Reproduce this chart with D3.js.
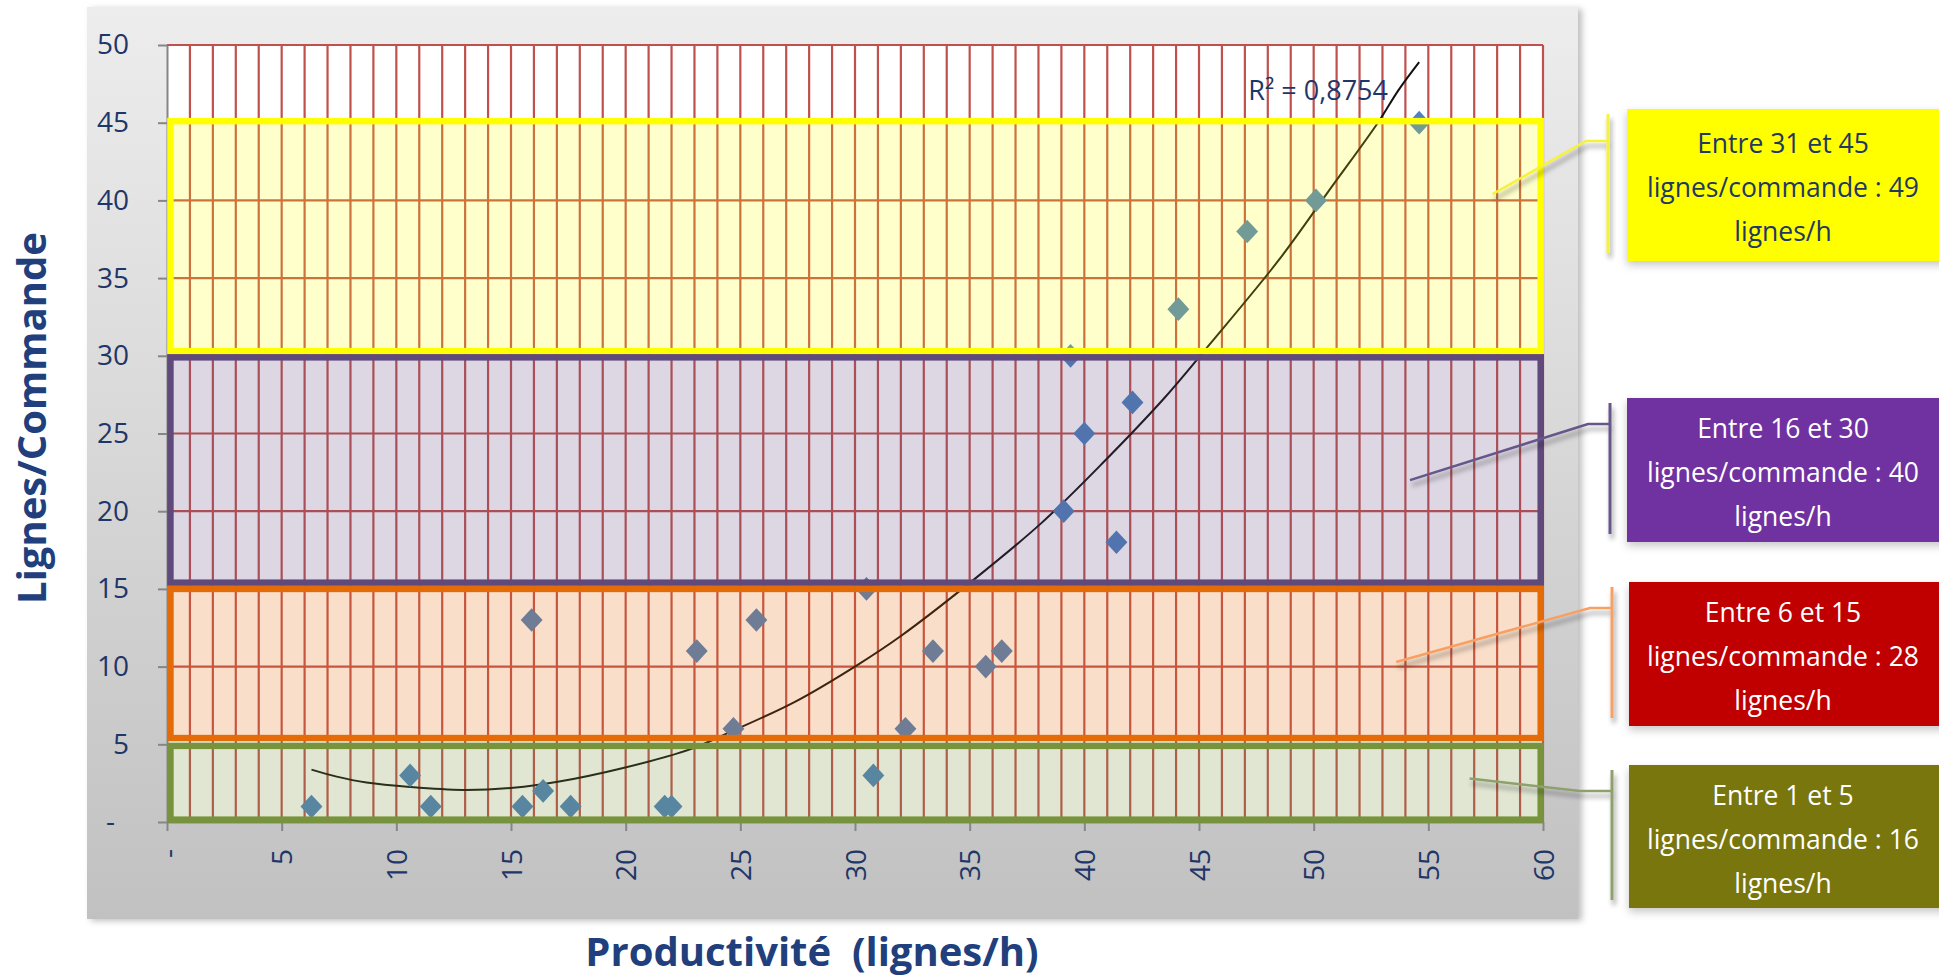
<!DOCTYPE html>
<html>
<head>
<meta charset="utf-8">
<script src="https://cdn.jsdelivr.net/npm/d3@7"></script>
<style>
body { margin: 0; background: #fff; }
svg text { font-family: "Open Sans", sans-serif; }
</style>
</head>
<body>
<div id="chart"></div>
<script>
// points : productivite (lignes/h) vs lignes par commande
var prodX = [6.3, 10.6, 11.5, 15.5, 15.9, 16.4, 17.6, 21.7, 22.0, 23.1, 24.7, 25.7, 30.5, 30.8,
             32.2, 33.4, 35.7, 36.4, 39.1, 39.4, 40.0, 41.4, 42.1, 44.1, 47.1, 50.1, 54.6];
var lignesY = [1, 3, 1, 1, 13, 2, 1, 1, 1, 11, 6, 13, 15, 3,
               6, 11, 10, 11, 20, 30, 25, 18, 27, 33, 38, 40, 45];

// courbe de tendance
var trendX = [6.3, 7.4, 8.7, 10.6, 12.9, 15.1, 17.1, 19.8, 22.8, 24.4, 27.4, 30.1, 32.0,
              35.1, 38.1, 40.8, 43.5, 45.5, 48.5, 50.8, 52.8, 53.7, 54.6];
var trendY = [3.37, 2.92, 2.54, 2.25, 2.06, 2.2, 2.6, 3.44, 4.67, 5.69, 7.75, 10.1, 11.97,
              15.5, 19.2, 23.1, 27.3, 30.8, 36.2, 40.9, 45.0, 47.1, 48.9];
var r2Text = "R² = 0,8754";

var xTicks = [0, 5, 10, 15, 20, 25, 30, 35, 40, 45, 50, 55, 60];
var yTicks = [0, 5, 10, 15, 20, 25, 30, 35, 40, 45, 50];

// zones
var bandNames = ["Entre 31 et 45", "Entre 16 et 30", "Entre 6 et 15", "Entre 1 et 5"];
var bandRates = [49, 40, 28, 16];
var bandLow = [30.3, 15.4, 5.4, 0.15];
var bandHigh = [45.1, 29.9, 15.0, 4.9];
var calloutX = [57.8, 54.2, 53.6, 56.8];
var calloutY = [40.4, 22.0, 10.3, 2.8];

// styles
var bandStroke = ["#ffff00", "#604a7b", "#e36c09", "#77933c"];
var bandFillOp = [0.2, 0.22, 0.22, 0.23];
var boxFill = ["#ffff00", "#7030a0", "#c00000", "#787609"];
var boxText = ["#1f3864", "#ffffff", "#ffffff", "#ffffff"];
var lineCol = ["#f4f23c", "#66578a", "#f7a064", "#8da06e"];
var boxTop = [109, 398, 582, 765];
var boxH = [152, 144, 144, 143];

var svgWidth = 1939, svgHeight = 978;
var navy = "#1f3668";

var svg = d3.select("#chart").append("svg")
    .attr("width", svgWidth)
    .attr("height", svgHeight);

var defs = svg.append("defs");
var grad = defs.append("linearGradient").attr("id", "bg")
    .attr("x1", 0).attr("y1", 0).attr("x2", 0).attr("y2", 1);
grad.append("stop").attr("offset", "0%").attr("stop-color", "#ededed");
grad.append("stop").attr("offset", "100%").attr("stop-color", "#c1c1c1");

defs.append("filter").attr("id", "areaShadow")
    .attr("x", "-5%").attr("y", "-5%").attr("width", "110%").attr("height", "110%")
  .append("feDropShadow").attr("dx", 4).attr("dy", 2).attr("stdDeviation", 3)
    .attr("flood-color", "#000").attr("flood-opacity", 0.25);
defs.append("filter").attr("id", "lineShadow")
    .attr("x", "-20%").attr("y", "-50%").attr("width", "140%").attr("height", "200%")
  .append("feDropShadow").attr("dx", 2).attr("dy", 5).attr("stdDeviation", 2.5)
    .attr("flood-color", "#000").attr("flood-opacity", 0.4);
defs.append("filter").attr("id", "boxShadow")
    .attr("x", "-10%").attr("y", "-10%").attr("width", "120%").attr("height", "130%")
  .append("feDropShadow").attr("dx", 0).attr("dy", 4).attr("stdDeviation", 4)
    .attr("flood-color", "#000").attr("flood-opacity", 0.22);

// chart area
svg.append("rect")
    .attr("x", 87).attr("y", 7)
    .attr("width", 1491).attr("height", 912)
    .attr("fill", "url(#bg)")
    .attr("filter", "url(#areaShadow)");

var x = d3.scaleLinear().domain([0, 60]).range([167, 1543]);
var y = d3.scaleLinear().domain([0, 50]).range([822, 45]);

// plot background
svg.append("rect")
    .attr("x", x(0)).attr("y", y(50))
    .attr("width", x(60) - x(0)).attr("height", y(0) - y(50))
    .attr("fill", "#fff");

// grid
var grid = svg.append("g");
grid.selectAll(".vg")
    .data(x.ticks(60).filter(function(d) { return d > 0; }))
    .enter().append("line")
    .attr("x1", function(d) { return x(d); })
    .attr("x2", function(d) { return x(d); })
    .attr("y1", y(0)).attr("y2", y(50))
    .attr("stroke", "#c0504d").attr("stroke-width", 2.2);
grid.selectAll(".hg")
    .data(yTicks.filter(function(d) { return d > 0; }))
    .enter().append("line")
    .attr("x1", x(0)).attr("x2", x(60))
    .attr("y1", function(d) { return y(d); })
    .attr("y2", function(d) { return y(d); })
    .attr("stroke", "#c0504d").attr("stroke-width", 2.2);

// axes
var yAxis = svg.append("g")
    .attr("transform", "translate(" + x(0) + ",0)")
    .call(d3.axisLeft(y).tickValues(yTicks).tickSize(9).tickSizeOuter(0).tickPadding(29)
      .tickFormat(function(d) { return d === 0 ? "-" : d; }));
yAxis.select(".domain").attr("stroke", "#868686").attr("stroke-width", 2);
yAxis.selectAll(".tick line").attr("stroke", "#868686").attr("stroke-width", 2);
yAxis.selectAll("text")
    .attr("fill", navy).style("font-size", "28px")
    .attr("dx", function(d) { return d === 0 ? -14 : 0; });

var xAxis = svg.append("g")
    .attr("transform", "translate(0," + y(0) + ")")
    .call(d3.axisBottom(x).tickValues(xTicks).tickSize(9).tickSizeOuter(0)
      .tickFormat(function(d) { return d === 0 ? "-" : d; }));
xAxis.select(".domain").attr("stroke", "#868686").attr("stroke-width", 2);
xAxis.selectAll(".tick line").attr("stroke", "#868686").attr("stroke-width", 2);
xAxis.selectAll("text")
    .attr("fill", navy).style("font-size", "28px")
    .attr("transform", "rotate(-90)")
    .attr("text-anchor", "end")
    .attr("x", -27).attr("y", 0).attr("dy", "0.36em");

// trend line
var trend = trendX.map(function(d, i) { return [d, trendY[i]]; });
svg.append("path")
    .datum(trend)
    .attr("fill", "none")
    .attr("stroke", "#111")
    .attr("stroke-width", 2)
    .attr("d", d3.line()
      .x(function(d) { return x(d[0]); })
      .y(function(d) { return y(d[1]); })
      .curve(d3.curveCatmullRom));

// diamonds
var diamond = {
  draw: function(ctx, size) {
    var r = Math.sqrt(size) / 2;
    ctx.moveTo(0, -r * 1.08);
    ctx.lineTo(r, 0);
    ctx.lineTo(0, r * 1.08);
    ctx.lineTo(-r, 0);
    ctx.closePath();
  }
};
svg.append("g").selectAll("path")
    .data(prodX)
    .enter().append("path")
    .attr("d", d3.symbol().type(diamond).size(480))
    .attr("transform", function(d, i) { return "translate(" + x(d) + "," + y(lignesY[i]) + ")"; })
    .attr("fill", "#4f81bd");

// zones
svg.append("g").selectAll("rect")
    .data(bandNames)
    .enter().append("rect")
    .attr("x", x(0.15))
    .attr("width", x(59.9) - x(0.15))
    .attr("y", function(d, i) { return y(bandHigh[i]); })
    .attr("height", function(d, i) { return y(bandLow[i]) - y(bandHigh[i]); })
    .attr("fill", function(d, i) { return bandStroke[i]; })
    .attr("fill-opacity", function(d, i) { return bandFillOp[i]; })
    .attr("stroke", function(d, i) { return bandStroke[i]; })
    .attr("stroke-width", 6.5);

// R2
svg.append("text")
    .attr("x", x(47.15)).attr("y", y(46.45))
    .attr("fill", navy).style("font-size", "27px")
    .text(r2Text);

// axis titles
svg.append("text")
    .attr("x", 812).attr("y", 966)
    .attr("text-anchor", "middle")
    .attr("fill", "#203f7c")
    .style("font-size", "40px").style("font-weight", "bold")
    .style("white-space", "pre")
    .text("Productivité  (lignes/h)");

svg.append("text")
    .attr("transform", "translate(46,418) rotate(-90)")
    .attr("text-anchor", "middle")
    .attr("fill", "#203f7c")
    .style("font-size", "40px").style("font-weight", "bold")
    .text("Lignes/Commande");

// callouts
var callouts = svg.append("g");
bandNames.forEach(function(name, i) {
  var bx = i < 2 ? 1627 : 1629;
  var barX = bx - (i === 0 ? 19 : 17);
  var attachY = boxTop[i] + (i === 0 ? 32 : 26);
  var kneeX = barX - (i === 3 ? 32 : 22);

  var c = callouts.append("g").attr("filter", "url(#lineShadow)");
  c.append("line")
      .attr("x1", barX).attr("x2", barX)
      .attr("y1", boxTop[i] + 5).attr("y2", boxTop[i] + boxH[i] - 8)
      .attr("stroke", lineCol[i]).attr("stroke-width", 3);
  c.append("polyline")
      .attr("points", [[barX, attachY], [kneeX, attachY], [x(calloutX[i]), y(calloutY[i])]].join(" "))
      .attr("fill", "none")
      .attr("stroke", lineCol[i]).attr("stroke-width", 2.5);

  callouts.append("rect")
      .attr("x", bx).attr("y", boxTop[i])
      .attr("width", 330).attr("height", boxH[i])
      .attr("fill", boxFill[i])
      .attr("filter", "url(#boxShadow)");

  var lines = [name, "lignes/commande : " + bandRates[i], "lignes/h"];
  var cy = boxTop[i] + boxH[i] / 2;
  callouts.append("g").selectAll("text")
      .data(lines)
      .enter().append("text")
      .attr("x", 1783)
      .attr("y", function(d, j) { return cy + 12 + (j - 1) * 44; })
      .attr("text-anchor", "middle")
      .attr("fill", boxText[i])
      .style("font-size", "26.5px")
      .text(function(d) { return d; });
});
</script>
</body>
</html>
